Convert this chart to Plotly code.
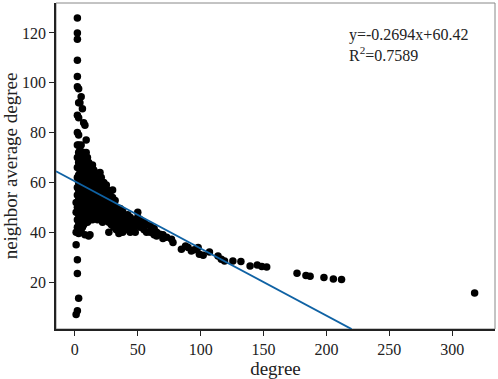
import plotly.graph_objects as go

# ---- data: (degree, neighbor average degree) grouped by degree ----
deg_groups = [
    (1, [7, 35, 40, 48, 52]),
    (2, [8.5, 23.5, 29, 42, 45, 50, 55, 58, 62, 66, 70, 75, 80, 87, 98.4, 102.5, 109, 117.5, 120, 126]),
    (3, [13.5, 39.5, 44, 47, 51, 54, 57, 60, 63, 68, 72, 75, 79, 86, 92, 97.6]),
    (4, [40, 43, 46, 49, 52, 56, 59, 62, 65, 69, 73, 92]),
    (5, [41, 44, 48, 51, 54, 57, 61, 64, 67, 71, 75, 94.4]),
    (6, [42, 45, 49, 53, 56, 59, 62, 66, 70, 89.6]),
    (7, [43, 46, 50, 53, 57, 60, 64, 68, 72, 84]),
    (8, [39, 44, 47, 51, 54, 58, 62, 65, 69, 83]),
    (9, [45, 48, 52, 56, 59, 63, 67, 72, 77]),
    (10, [44, 47, 50, 54, 57, 61, 65, 70]),
    (11, [38.5, 46, 49, 53, 56, 60, 64, 68]),
    (12, [39, 45, 48, 51, 55, 58, 62, 66]),
    (13, [46, 50, 53, 57, 60, 64]),
    (14, [45, 49, 52, 56, 59, 63, 67]),
    (15, [47, 51, 54, 58, 61, 65]),
    (16, [46, 50, 53, 57, 60, 64]),
    (17, [48, 52, 55, 59, 62]),
    (18, [45, 49, 53, 56, 60, 63]),
    (19, [47, 51, 54, 58, 61]),
    (20, [46, 50, 53, 57, 60, 64]),
    (21, [48, 52, 55, 59, 62]),
    (22, [44, 47, 51, 54, 58]),
    (23, [49, 53, 56, 60]),
    (24, [46, 50, 54, 57]),
    (25, [45, 48, 52, 55, 59]),
    (26, [47, 51, 54, 57]),
    (27, [40, 44, 49, 53]),
    (28, [46, 50, 55]),
    (29, [43, 48, 52]),
    (30, [45, 50, 54, 57]),
    (31, [42, 47, 51]),
    (32, [44, 49, 52.8]),
    (33, [41, 46, 50]),
    (34, [43, 48]),
    (35, [39.5, 45, 47]),
    (36, [41, 44, 49.5]),
    (37, [42, 46]),
    (38, [40, 44, 48.3]),
    (40, [41, 43, 46]),
    (42, [42, 45, 47]),
    (44, [40, 43, 46]),
    (46, [41, 44]),
    (48, [40, 42.5, 45]),
    (50, [43, 46, 48]),
    (52, [42, 45]),
    (55, [41, 44]),
    (57, [40, 43]),
    (60, [40, 42.5]),
    (63, [39, 41.5]),
    (65, [38.5, 40]),
    (67.6, [39.2]),
    (70, [37.5, 39]),
    (73, [38]),
    (76.8, [37.2]),
    (78, [35.9]),
    (84.7, [33.2]),
    (88, [34.5]),
    (90, [33.9]),
    (92.6, [32.5]),
    (95, [33]),
    (98, [33.9]),
    (99, [31.2]),
    (102, [30.8]),
    (107, [32.1]),
    (113.8, [30.5]),
    (116.4, [29.2]),
    (119, [28.5]),
    (125.6, [28.5]),
    (132, [28.3]),
    (139.3, [26.5]),
    (145, [26.9]),
    (148.6, [26.3]),
    (152.5, [26.1]),
    (176.6, [23.6]),
    (183.7, [22.7]),
    (187, [22.4]),
    (198, [21.9]),
    (205.5, [21.3]),
    (212, [21.1]),
    (317.8, [15.6]),
]

degree = [d for d, ys in deg_groups for _ in ys]
neighbor_avg = [y for d, ys in deg_groups for y in ys]

slope = -0.2694
intercept = 60.42
fit_x = [-15, 220]
fit_y = [slope * v + intercept for v in fit_x]

x_ticks = [0, 50, 100, 150, 200, 250, 300]
y_ticks = [20, 40, 60, 80, 100, 120]

FONT = "Liberation Serif"

fig = go.Figure()
fig.add_trace(go.Scatter(x=degree, y=neighbor_avg, mode="markers",
                         marker=dict(color="black", size=7.5, line=dict(width=0)),
                         showlegend=False))
fig.add_trace(go.Scatter(x=fit_x, y=fit_y, mode="lines",
                         line=dict(color="#0f62a4", width=1.8),
                         showlegend=False))

fig.update_layout(
    width=498, height=379,
    margin=dict(l=54, r=3, t=3, b=48),
    plot_bgcolor="white", paper_bgcolor="white",
    font=dict(family=FONT, size=16, color="#222"),
    xaxis=dict(range=[-15, 334], tickvals=x_ticks, showgrid=False, zeroline=False,
               showline=True, linecolor="#222", linewidth=1.5,
               ticks="outside", ticklen=5, tickwidth=1.2, tickcolor="#222",
               title=dict(text="degree", standoff=5)),
    yaxis=dict(range=[1.2, 132], tickvals=y_ticks, showgrid=False, zeroline=False,
               showline=True, linecolor="#222", linewidth=1.5,
               ticks="outside", ticklen=5, tickwidth=1.2, tickcolor="#222",
               title=dict(text="neighbor average degree", standoff=6)),
    shapes=[dict(type="rect", xref="paper", yref="paper", x0=0, x1=1, y0=0, y1=1,
                 line=dict(color="#888", width=1), layer="below")],
    annotations=[dict(xref="paper", yref="paper", x=0.662, y=0.935,
                      xanchor="left", yanchor="top", align="left", showarrow=False,
                      text="y=-0.2694x+60.42<br>R<sup>2</sup>=0.7589",
                      font=dict(family=FONT, size=16, color="#222"))],
)

fig.write_html("out.html", config={"displayModeBar": False},
               post_script="document.body.style.margin='0';document.body.style.overflow='hidden';")
